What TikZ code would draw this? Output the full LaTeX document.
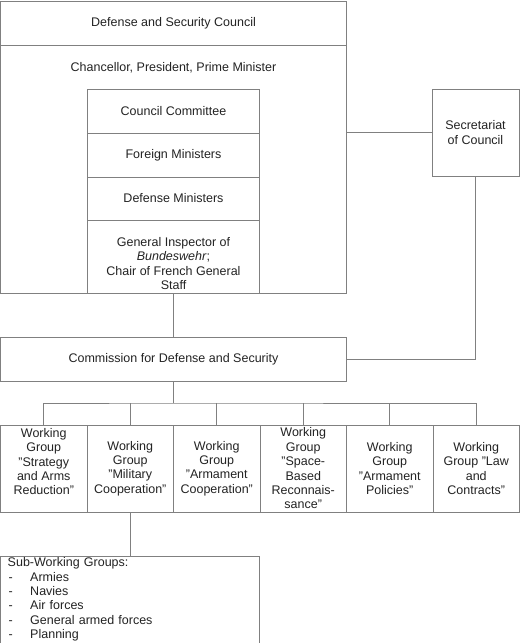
\documentclass[tikz,border=0pt]{standalone}
\usepackage{fontspec}
\setmainfont{Liberation Sans}
\usetikzlibrary{positioning}
\definecolor{linegray}{RGB}{128,128,128}
\definecolor{inkgray}{RGB}{35,35,35}
\tikzset{
  box/.style={draw=linegray, line width=0.9pt, align=center, inner xsep=2pt, inner ysep=1pt, outer sep=0pt, text=inkgray},
  group/.style={box, minimum width=86.5pt, minimum height=87pt},
  link/.style={draw=linegray, line width=0.9pt}
}
\begin{document}
\begin{tikzpicture}[node distance=0pt, font=\fontsize{12.5}{14.4}\selectfont]
  \useasboundingbox (0,0) rectangle (520pt,-643pt);
  \fill[white] (0,0) rectangle (520pt,-643pt);

  \node[box, minimum width=346pt, minimum height=44pt, anchor=north west](council) at (0.5pt,-1pt){Defense and Security Council};
  \node[box, minimum width=346pt, minimum height=248pt, below=0pt of council](members){};
  \node[inner sep=0pt, text=inkgray, below=17pt of council](leaders){Chancellor, President, Prime Minister};

  \node[box, minimum width=172pt, minimum height=44pt, below=44pt of council](committee){Council Committee};
  \node[box, minimum width=172pt, minimum height=44pt, below=0pt of committee](foreign){Foreign Ministers};
  \node[box, minimum width=172pt, minimum height=43pt, below=0pt of foreign](defense){Defense Ministers};
  \node[box, minimum width=172pt, minimum height=73pt, text height=66pt, text depth=0pt, below=0pt of defense](general){General Inspector of\\\textit{Bundeswehr};\\Chair of French General\\Staff};

  \node[box, minimum width=87pt, minimum height=87pt](secretariat) at (475.5pt,-132.5pt){Secretariat\\of Council};

  \node[box, minimum width=346pt, minimum height=44pt, below=44pt of members](commission){Commission for Defense and Security};
  \coordinate[below=22pt of commission](bus);

  \node[group, text depth=14pt, anchor=north west](strategy) at (0.5pt,-425pt){Working\\Group\\"Strategy\\and Arms\\Reduction"};
  \node[group, right=0pt of strategy](military){Working\\Group\\"Military\\Cooperation"};
  \node[group, right=0pt of military](armament){Working\\Group\\"Armament\\Cooperation"};
  \node[group, right=0pt of armament](space){Working\\Group\\"Space-\\Based\\Reconnais-\\sance"};
  \node[group, right=0pt of space](policies){Working\\Group\\"Armament\\Policies"};
  \node[group, right=0pt of policies](law){Working\\Group "Law\\and\\Contracts"};

  \node[box, minimum width=259pt, minimum height=87pt, text width=245pt, inner xsep=7pt, align=left, below=44pt of military](subgroups){Sub-Working Groups:\\
    \makebox[22.5pt][l]{\hspace{1pt}-}Armies\\
    \makebox[22.5pt][l]{\hspace{1pt}-}Navies\\
    \makebox[22.5pt][l]{\hspace{1pt}-}Air forces\\
    \makebox[22.5pt][l]{\hspace{1pt}-}General armed forces\\
    \makebox[22.5pt][l]{\hspace{1pt}-}Planning};

  \draw[link] (members.east |- secretariat.west) -- (secretariat.west);
  \draw[link] (general.south) -- (commission.north);
  \draw[link] (secretariat.south) |- (commission.east);
  \draw[link] (commission.south) -- (bus);
  \draw[link] (strategy.north) |- (bus) -| (law.north);
  \draw[link] (military.north) -- (military.north |- bus);
  \draw[link] (armament.north) -- (armament.north |- bus);
  \draw[link] (space.north) -- (space.north |- bus);
  \draw[link] (policies.north) -- (policies.north |- bus);
  \draw[link] (military.south) -- (subgroups.north);
\end{tikzpicture}
\end{document}
